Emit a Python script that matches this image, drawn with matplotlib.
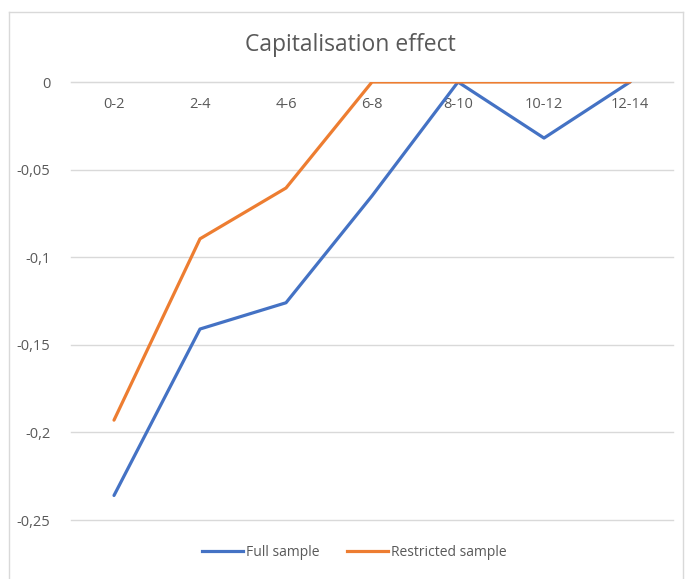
import matplotlib
matplotlib.use("Agg")
import matplotlib.pyplot as plt
from matplotlib.lines import Line2D

plt.rcParams['font.family'] = ['Open Sans', 'DejaVu Sans']

# capitalisation effect per age bracket
periods = ["0-2", "2-4", "4-6", "6-8", "8-10", "10-12", "12-14"]
full_sample = [-0.236, -0.141, -0.126, -0.065, 0.0, -0.032, 0.0]
restricted_sample = [-0.193, -0.0895, -0.0605, 0.0, 0.0, 0.0, 0.0]
y_ticks = [0, -0.05, -0.1, -0.15, -0.2, -0.25]
y_tick_labels = ["0", "-0,05", "-0,1", "-0,15", "-0,2", "-0,25"]

W, H = 686, 579
fig = plt.figure(figsize=(W / 100, H / 100), dpi=100)
ax = fig.add_axes([71 / W, 1 - 520 / H, (673 - 71) / W, (520 - 82) / H])

x = list(range(len(periods)))
ax.plot(x, full_sample, color="#4472C4", lw=2.3, solid_capstyle="round", zorder=3)
ax.plot(x, restricted_sample, color="#ED7D31", lw=2.3, solid_capstyle="round", zorder=3)

ax.set_xlim(-0.5, len(periods) - 0.5)
ax.set_ylim(-0.25, 0)
ax.set_yticks(y_ticks)
ax.set_yticklabels(y_tick_labels)
ax.set_xticks(x)
ax.set_xticklabels(periods)
ax.yaxis.grid(True, color="#d9d9d9", lw=1)
for gl in ax.get_ygridlines():
    gl.set_clip_on(False)
ax.set_axisbelow(True)
for s in ["top", "right", "left"]:
    ax.spines[s].set_visible(False)
# category axis sits on the zero line
ax.spines["bottom"].set_position(("data", 0))
ax.spines["bottom"].set_color("#d9d9d9")
ax.tick_params(axis="x", length=0, pad=11, labelsize=10.5, labelcolor="#595959")
ax.tick_params(axis="y", length=0, pad=15, labelsize=10.5, labelcolor="#595959")

fig.text(350 / W, 1 - 45 / H, "Capitalisation effect", ha="center", va="center",
         fontsize=16.5, color="#595959")

handles = [Line2D([], [], color="#4472C4", lw=2.3),
           Line2D([], [], color="#ED7D31", lw=2.3)]
fig.legend(handles, ["Full sample", "Restricted sample"], loc="center",
           bbox_to_anchor=(354 / W, 1 - 552 / H), ncol=2, frameon=False,
           fontsize=10, labelcolor="#595959", handlelength=3.0,
           handletextpad=0.15, columnspacing=2.0)

# chart frame
frame_col = "#d9d9d9"
fig.add_artist(Line2D([9 / W, 9 / W], [0, 1 - 12 / H], color=frame_col, lw=1))
fig.add_artist(Line2D([9 / W, 683 / W], [1 - 12 / H, 1 - 12 / H], color=frame_col, lw=1))
fig.add_artist(Line2D([683 / W, 683 / W], [0, 1 - 12 / H], color=frame_col, lw=1))

fig.savefig("out.png", dpi=100)
